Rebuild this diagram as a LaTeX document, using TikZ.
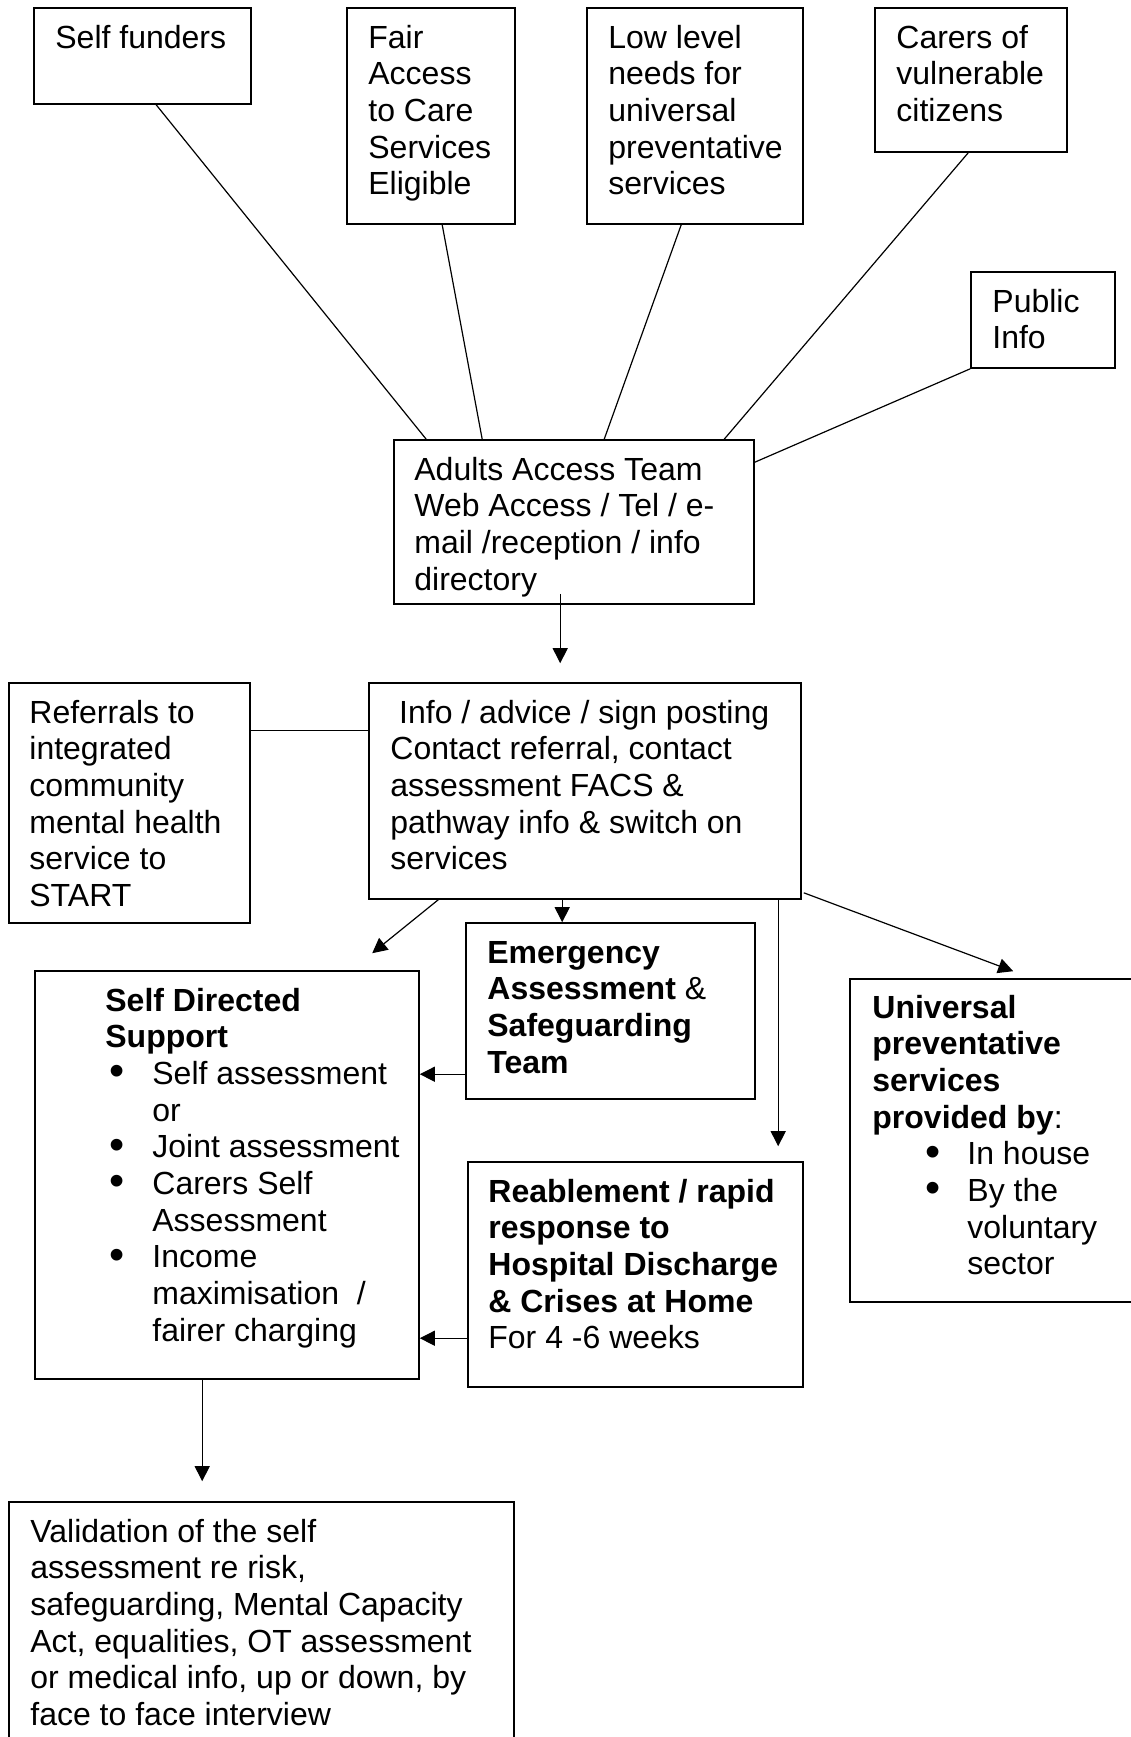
\documentclass[tikz,border=0pt]{standalone}
\usepackage{fontspec}
\setmainfont{Liberation Sans}
\usetikzlibrary{calc,fit,arrows.meta}
\newcommand\tl[1]{\begin{tabular}[t]{@{}l@{}}#1\end{tabular}}
\newcommand\bigbul{\raisebox{-0.6pt}{\scalebox{1.35}{\textbullet}}}
\newcommand\sdsb{\makebox[23.5pt][l]{\hspace{2pt}\bigbul}}
\newcommand\unib{\makebox[47.5pt][l]{\hspace{26.5pt}\bigbul}}
\begin{document}
\begin{tikzpicture}[x=0.5pt,y=-0.5pt,
  boxst/.style={draw, line width=0.8pt, inner sep=0pt},
  txt/.style={anchor=base west, inner sep=0pt, font=\fontsize{16}{18.35}\selectfont},
  conn/.style={line width=0.6pt},
  arr/.style={conn, -{Triangle[length=7.5pt,width=7.5pt]}}]
\useasboundingbox (0,0) rectangle (1131,1737);
\clip (0,0) rectangle (1131,1737);
\fill[white] (0,0) rectangle (1131,1737);

% boxes
\node[boxst, fit={(34,8) (251,104)}] (selff) {};
\node[boxst, fit={(347,8) (515,224)}] (fair) {};
\node[boxst, fit={(587,8) (803,224)}] (low) {};
\node[boxst, fit={(875,8) (1067,152)}] (carers) {};
\node[boxst, fit={(971,272) (1115,368)}] (public) {};
\node[boxst, fit={(394,440) (754,604)}] (adults) {};
\node[boxst, fit={(9,683) (250,923)}] (refer) {};
\node[boxst, fit={(369,683) (801,899)}] (info) {};
\node[boxst, fit={(35,971) (419,1379)}] (sds) {};
\node[boxst, fit={(466,923) (755,1099)}] (emerg) {};
\node[boxst, fit={(850,979) (1150,1302)}] (univ) {};
\node[boxst, fit={(468,1162) (803,1387)}] (reab) {};
\node[boxst, fit={(9,1502) (514,1760)}] (valid) {};

% texts
\node[txt] (selffT) at (55,48) {\tl{Self funders}};
\node[txt] (fairT) at (368,48) {\tl{Fair\\Access\\to Care\\Services\\Eligible}};
\node[txt] (lowT) at (608,48) {\tl{Low level\\needs for\\universal\\preventative\\services}};
\node[txt] (carersT) at (896,48) {\tl{Carers of\\vulnerable\\citizens}};
\node[txt] (publicT) at (992,312) {\tl{Public\\Info}};
\node[txt] (adultsT) at (414,480) {\tl{Adults Access Team\\Web Access / Tel / e-\\mail /reception / info\\directory}};
\node[txt] (referT) at (29,723) {\tl{Referrals to\\integrated\\community\\mental health\\service to\\START}};
\node[txt] (infoT) at (390,723) {\tl{\hspace{4.4pt}Info / advice / sign posting\\Contact referral, contact\\assessment FACS \&\\pathway info \& switch on\\services}};
\node[txt] (sdsT) at (105,1011) {\begin{tabular}[t]{@{}l@{}l@{}}
\multicolumn{2}{@{}l@{}}{\textbf{Self Directed}}\\
\multicolumn{2}{@{}l@{}}{\textbf{Support}}\\
\sdsb & Self assessment\\
 & or\\
\sdsb & Joint assessment\\
\sdsb & Carers Self\\
 & Assessment\\
\sdsb & Income\\
 & maximisation\ \ /\\
 & fairer charging
\end{tabular}};
\node[txt] (emergT) at (487,963) {\tl{\textbf{Emergency}\\\textbf{Assessment} \&\\\textbf{Safeguarding}\\\textbf{Team}}};
\node[txt] (univT) at (872,1018) {\begin{tabular}[t]{@{}l@{}l@{}}
\multicolumn{2}{@{}l@{}}{\textbf{Universal}}\\
\multicolumn{2}{@{}l@{}}{\textbf{preventative}}\\
\multicolumn{2}{@{}l@{}}{\textbf{services}}\\
\multicolumn{2}{@{}l@{}}{\textbf{provided by}:}\\
\unib & In house\\
\unib & By the\\
 & voluntary\\
 & sector
\end{tabular}};
\node[txt] (reabT) at (488,1202) {\tl{\textbf{Reablement / rapid}\\\textbf{response to}\\\textbf{Hospital Discharge}\\\textbf{\& Crises at Home}\\For 4 -6 weeks}};
\node[txt] (validT) at (30,1542) {\tl{Validation of the self\\assessment re risk,\\safeguarding, Mental Capacity\\Act, equalities, OT assessment\\or medical info, up or down, by\\face to face interview}};

% connectors
\draw[conn] ($(selff.south west)+(123,0)$) -- ($(adults.north west)+(33,0)$);
\draw[conn] ($(fair.south west)+(96,0)$) -- ($(adults.north west)+(89,0)$);
\draw[conn] ($(low.south west)+(95,0)$) -- ($(adults.north west)+(211,0)$);
\draw[conn] ($(carers.south west)+(94,0)$) -- ($(adults.north west)+(331,0)$);
\draw[conn] (public.south west) -- ($(adults.north east)+(0,23)$);
\draw[arr] ($(adults.south west)+(167,-11)$) -- ($(info.north west)+(192,-19)$);
\draw[conn] ($(refer.north east)+(0,48)$) -- ($(info.north west)+(0,48)$);
\draw[arr] ($(info.south west)+(70,0)$) -- ($(sds.north west)+(338,-17)$);
\draw[arr] ($(info.south west)+(194,0)$) -- ($(emerg.north west)+(97,0)$);
\draw[arr] ($(info.south west)+(410,0)$) -- ($(reab.north west)+(311,-15)$);
\draw[arr] ($(info.south east)+(2,-7)$) -- ($(univ.north west)+(164,-7)$);
\draw[arr] ($(emerg.north west)+(0,152)$) -- ($(sds.north east)+(0,104)$);
\draw[arr] ($(reab.north west)+(0,177)$) -- ($(sds.north east)+(0,368)$);
\draw[arr] ($(sds.south west)+(168,0)$) -- ($(valid.north west)+(194,-20)$);
\end{tikzpicture}
\end{document}
